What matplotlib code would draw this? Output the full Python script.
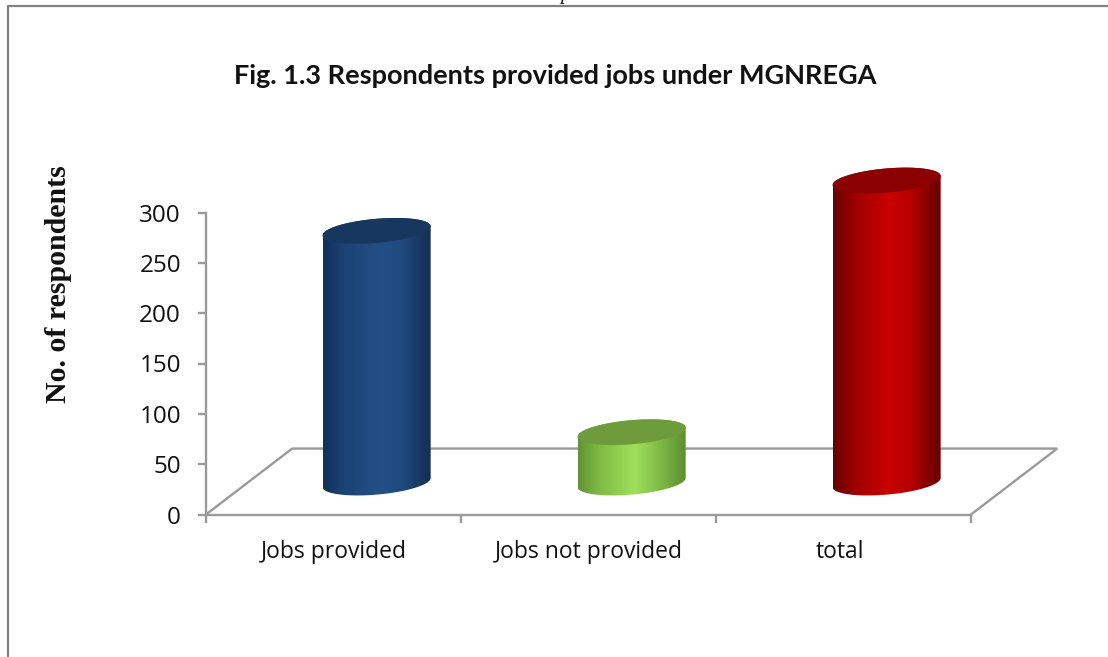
import numpy as np
import matplotlib
matplotlib.use("Agg")
import matplotlib.pyplot as plt
from matplotlib.colors import LinearSegmentedColormap
from matplotlib.lines import Line2D
from matplotlib.patches import Polygon
from matplotlib.transforms import ScaledTranslation

categories = ["Jobs provided", "Jobs not provided", "total"]
values = [250, 50, 300]
y_ticks = [0, 50, 100, 150, 200, 250, 300]

side_colors = [
    ["#12305a", "#1c4376", "#234f86", "#1f4a80", "#132e50"],
    ["#5f9432", "#80bb45", "#9fe05c", "#84c04a", "#5c8c30"],
    ["#660000", "#a00000", "#c90000", "#b50000", "#620000"],
]
top_colors = ["#17375e", "#6f9c3a", "#8b0000"]

W, H = 1108, 657
GRAY = "#9a9a9a"

# floor depth, in data units
DEPTH_X = 0.338
DEPTH_Y = 65.5
# cylinder shape, in data units
HALF_W = 0.212
ELL_B = 12.0
ELL_SKEW = 4.5


def cyl_xy(cx, cy, t):
    x = cx + HALF_W * np.cos(t)
    y = cy + ELL_B * np.sin(t) + ELL_SKEW * np.cos(t)
    return np.column_stack([x, y])


def draw_cylinder(ax, pos, val, colors, top_color):
    cx = pos + DEPTH_X / 2
    base = DEPTH_Y / 2 - 1
    top = base + val

    lower = cyl_xy(cx, base, np.linspace(np.pi, 2 * np.pi, 80))
    upper = cyl_xy(cx, top, np.linspace(0, np.pi, 80))
    body = Polygon(np.vstack([lower, upper]), closed=True, fc="none", ec="none", zorder=3)
    ax.add_patch(body)

    cmap = LinearSegmentedColormap.from_list("side", list(zip([0, 0.2, 0.52, 0.72, 1], colors)))
    grad = np.linspace(0, 1, 256).reshape(1, -1)
    im = ax.imshow(grad, cmap=cmap, aspect="auto", zorder=3, interpolation="bilinear",
                   extent=[cx - HALF_W, cx + HALF_W, base - 20, top + 20])
    im.set_clip_path(body)

    cap = cyl_xy(cx, top, np.linspace(0, 2 * np.pi, 160))
    ax.add_patch(Polygon(cap, closed=True, fc=top_color, ec="none", zorder=4))


plt.rcParams["font.family"] = ["Open Sans", "DejaVu Sans"]

fig = plt.figure(figsize=(W / 100, H / 100), dpi=100, facecolor="white")
ax = fig.add_axes([206 / W, (H - 514.5) / H, (1070 - 206) / W, (514.5 - 150) / H])
ax.patch.set_alpha(0)

x_pos = np.arange(len(categories))

# floor behind the columns
x_lo, x_hi = x_pos[0] - 0.5, x_pos[-1] + 0.5
ax.plot([x_lo, x_lo + DEPTH_X, x_hi + DEPTH_X, x_hi], [0, DEPTH_Y, DEPTH_Y, 0],
        color=GRAY, lw=1.7, zorder=1, solid_joinstyle="miter")

for i, val in enumerate(values):
    draw_cylinder(ax, x_pos[i], val, side_colors[i], top_colors[i])

ax.set_xlim(x_lo, x_lo + (1070 - 206) / 255)
ax.set_ylim(0, 364.5 / (302 / 300))

for side in ["top", "right"]:
    ax.spines[side].set_visible(False)
ax.spines["left"].set_bounds(0, 300)
ax.spines["bottom"].set_bounds(x_lo, x_hi)
ax.spines["left"].set_color(GRAY)
ax.spines["bottom"].set_color(GRAY)
ax.spines["left"].set_linewidth(1.7)
ax.spines["bottom"].set_linewidth(1.7)

ax.set_yticks(y_ticks)
ax.set_xticks(np.arange(x_lo, x_hi + 0.5))
ax.set_xticklabels([])
ax.set_xticks(x_pos, categories, minor=True)
ax.tick_params(axis="y", length=6, width=1.7, color=GRAY, labelsize=17.5, pad=12, labelcolor="#111111")
ax.tick_params(axis="x", which="major", length=6, width=1.7, color=GRAY)
ax.tick_params(axis="x", which="minor", length=0, labelsize=16.5, pad=18, labelcolor="#111111")

# the last label sits a little left of its slot
last = ax.xaxis.get_minorticklabels()[2]
last.set_transform(last.get_transform() + ScaledTranslation(-4 / 100, 0, fig.dpi_scale_trans))

fig.text(555 / W, 1 - 76 / H, "Fig. 1.3 Respondents provided jobs under MGNREGA",
         family=["Lato", "DejaVu Sans"], weight="bold", fontsize=19.5, ha="center", va="center", color="#111111")
fig.text(58 / W, 1 - 284 / H, "No. of respondents", family=["Liberation Serif", "DejaVu Serif"],
         weight="bold", fontsize=21.5, rotation=90, ha="center", va="center", color="#111111")

# page frame around the chart and a cut off letter from the page above
fig.add_artist(Line2D([1, 7.5 / W, 7.5 / W], [1 - 5.5 / H, 1 - 5.5 / H, 0], color="#808080", lw=1.6))
fig.text(565 / W, 1 + 1 / H, "p", family=["Liberation Serif", "DejaVu Serif"], style="italic",
         fontsize=15, ha="center", va="baseline", color="#222222")

fig.savefig("out.png", dpi=100)
